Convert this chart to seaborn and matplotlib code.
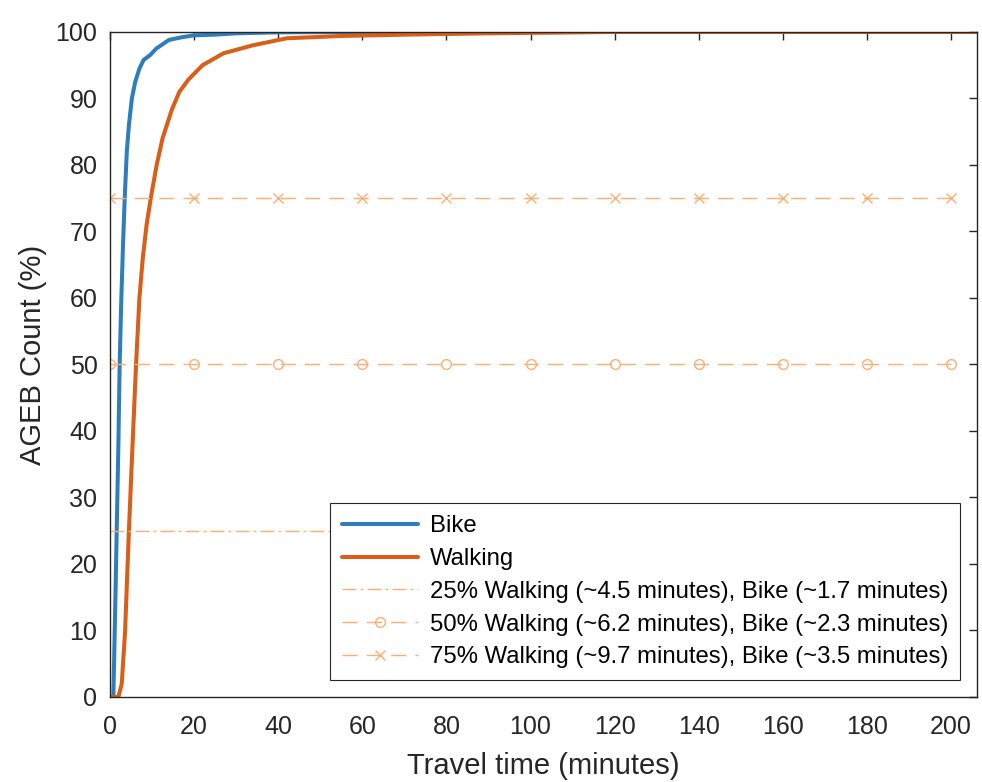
import matplotlib
matplotlib.use("Agg")
import matplotlib.pyplot as plt
import seaborn as sns

# cumulative share of AGEBs reached within a travel time
bike_time = [0, 0.8, 1.2, 1.6, 2.0, 2.3, 2.7, 3.1, 3.5, 4.0, 4.5, 5.2, 6.0, 7.0,
             8.0, 9.5, 11, 14, 17, 20, 25, 30, 40, 60, 100, 206.2]
bike_pct = [0, 0, 12, 25, 38, 50, 60, 68, 75, 82, 86, 90, 92.5, 94.5,
            95.8, 96.5, 97.5, 98.8, 99.2, 99.5, 99.6, 99.8, 99.95, 100, 100, 100]

walk_time = [0, 2.0, 2.8, 3.6, 4.5, 5.3, 6.2, 7.0, 7.8, 8.7, 9.7, 11.1, 12.5,
             14.7, 16.5, 18.6, 22, 27, 34, 42, 55, 70, 90, 120, 206.2]
walk_pct = [0, 0, 2, 10, 25, 37, 50, 60, 66, 71, 75, 80, 84,
            88.3, 91, 92.8, 95, 96.8, 98, 99.05, 99.4, 99.6, 99.8, 100, 100]

ref_minutes = [0, 20, 40, 60, 80, 100, 120, 140, 160, 180, 200]
ref_levels = [25, 50, 75]
ref_labels = [
    "25% Walking (~4.5 minutes), Bike (~1.7 minutes)",
    "50% Walking (~6.2 minutes), Bike (~2.3 minutes)",
    "75% Walking (~9.7 minutes), Bike (~3.5 minutes)",
]

sns.set_style("white")
plt.rcParams["font.family"] = ["Liberation Sans", "DejaVu Sans"]

fig = plt.figure(figsize=(9.82, 7.82), dpi=100)
ax = fig.add_axes([0.112, 0.1087, 0.883, 0.8504])

blue = "#2E7EBE"
orange = "#D95F18"
light = "#FFAE73"

sns.lineplot(x=bike_time, y=bike_pct, ax=ax, color=blue, lw=2.9, label="Bike")
sns.lineplot(x=walk_time, y=walk_pct, ax=ax, color=orange, lw=2.9, label="Walking")

styles = [
    dict(linestyle=(0, (10, 3, 2, 3))),
    dict(linestyle=(0, (11, 6.5)), marker="o", markersize=7),
    dict(linestyle=(0, (11, 6.5)), marker="x", markersize=7),
]
for level, lab, st in zip(ref_levels, ref_labels, styles):
    sns.lineplot(x=ref_minutes, y=[level] * len(ref_minutes), ax=ax, color=light,
                 lw=1.0, label=lab, markerfacecolor="none",
                 markeredgecolor=light, markeredgewidth=1.0, **st)

ax.set_xlim(0, 206.2)
ax.set_ylim(0, 100)
ax.set_xticks(range(0, 201, 20))
ax.set_yticks(range(0, 101, 10))
ax.tick_params(direction="in", length=6, width=1, colors="#262626",
               labelsize=18, top=True, right=True, pad=9)
ax.tick_params(axis="x", pad=13)
for s in ax.spines.values():
    s.set_visible(True)
    s.set_color("#262626")
    s.set_linewidth(1.0)

ax.set_xlabel("Travel time (minutes)", fontsize=21, color="#262626", labelpad=9)
ax.set_ylabel("AGEB Count (%)", fontsize=21, color="#262626", labelpad=6)
ax.yaxis.label.set_y(0.514)

leg = ax.legend(loc="lower right", fontsize=17.2, frameon=True, fancybox=False,
                framealpha=1, edgecolor="#262626", handlelength=3.2,
                labelspacing=0.45, borderaxespad=0.7, handletextpad=0.5,
                borderpad=0.5, labelcolor="black")
leg.get_frame().set_linewidth(0.8)

fig.savefig("out.png", dpi=100)
